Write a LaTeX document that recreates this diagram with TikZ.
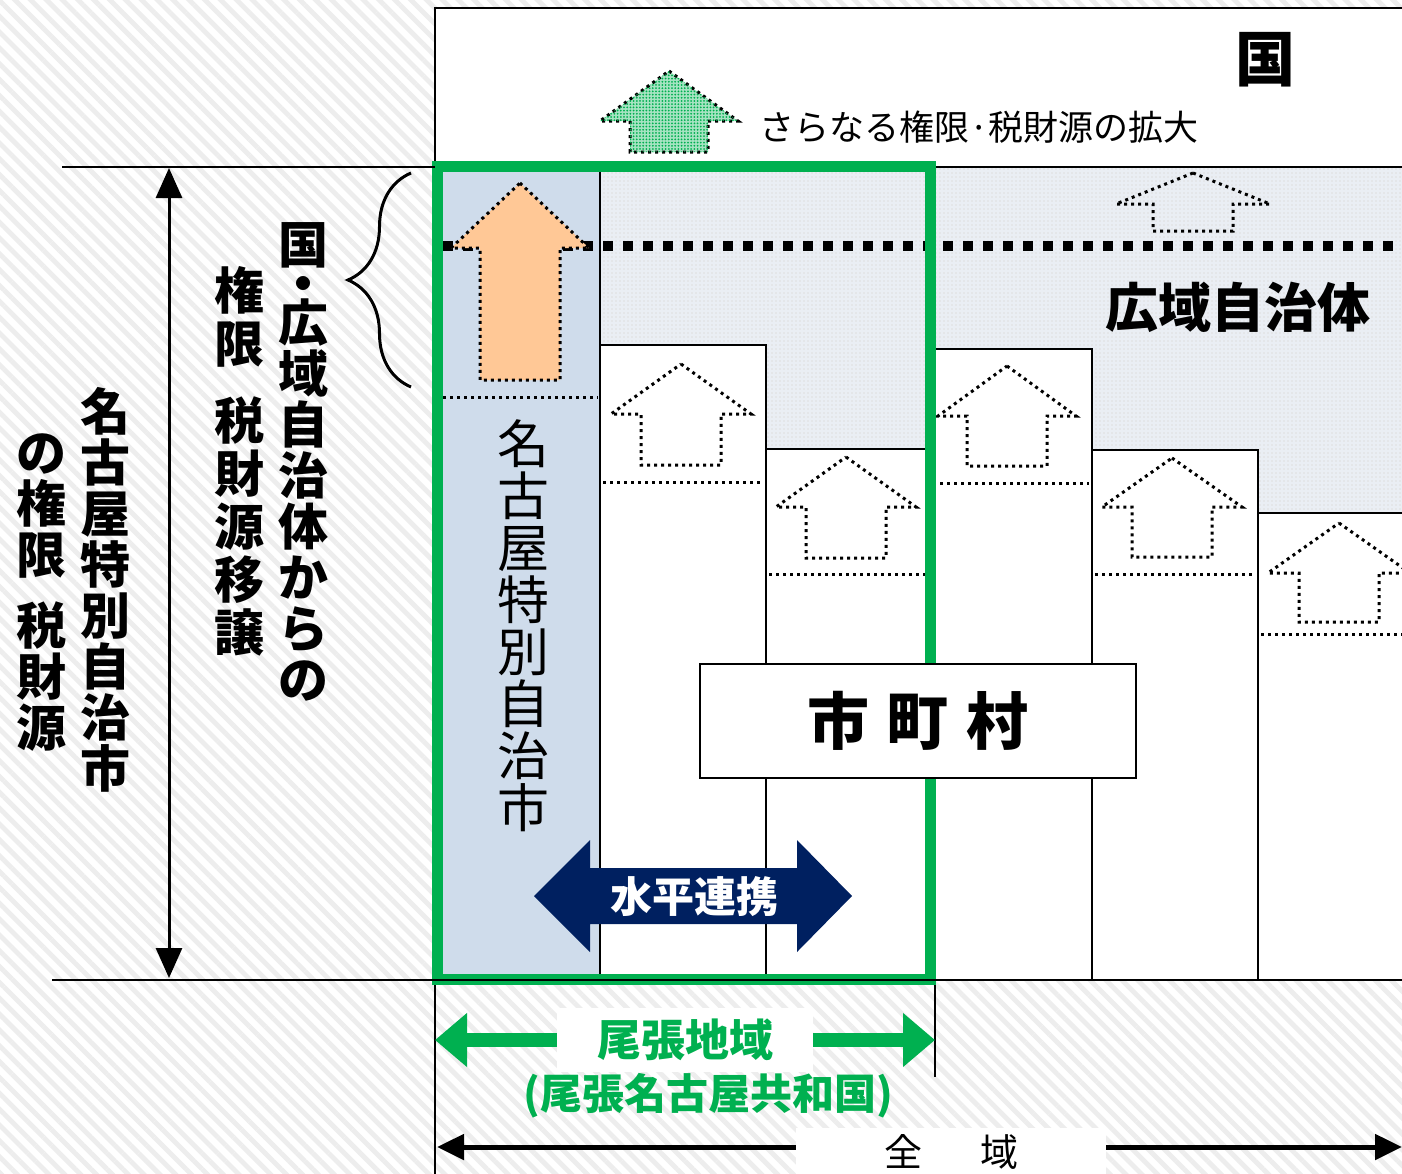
\documentclass[tikz,border=0pt]{standalone}
\usepackage{fontspec}
\newfontfamily\jp{Noto Sans CJK JP}
\usetikzlibrary{arrows.meta,patterns.meta,decorations.pathreplacing,positioning}

\definecolor{nagoyablue}{RGB}{207,220,235}
\definecolor{kouiki}{RGB}{234,238,244}
\definecolor{ojgreen}{RGB}{0,176,80}
\definecolor{peach}{RGB}{255,200,150}
\definecolor{navy}{RGB}{0,32,96}

\begin{document}
\begin{tikzpicture}[x=0.5pt,y=-0.5pt,font=\jp,
  col/.style={fill=white,draw=black,line width=0.8pt},
  dotline/.style={line width=1.5pt,dash pattern=on 1.5pt off 2pt},
  vlabel/.style={align=center,inner sep=0pt,font=\jp\bfseries\fontsize{25}{25.5}\selectfont},
  greenarr/.style={draw=ojgreen,line width=7pt,{Triangle[length=16pt,width=26pt]}-{Triangle[length=16pt,width=26pt]}},
  blackarr/.style={draw=black,line width=1.5pt,{Triangle[length=15pt,width=13pt]}-{Triangle[length=15pt,width=13pt]}}]
  \clip (0,0) rectangle (1402,1173);
  % background
  \fill[white] (0,0) rectangle (1402,1173);
  \fill[pattern={Lines[angle=-45,distance=5.6pt,line width=2.4pt]},pattern color=black!7] (0,0) rectangle (1402,1173);

  % kuni box and kouiki area
  \draw[fill=white,line width=0.8pt] (435,8) rectangle (1420,167);
  \node[font=\jp\bfseries\fontsize{30}{30}\selectfont] (kuni) at (1265,60) {国};
  \fill[kouiki,postaction={pattern={Dots[distance=2pt,radius=0.45pt]},pattern color=black!13}] (435,167) rectangle (1420,980);
  \draw[line width=0.8pt] (435,167) -- (1420,167);
  \node[font=\jp\bfseries\fontsize{26.5}{26.5}\selectfont] (kouikilbl) at (1238,307) {広域自治体};

  % nagoya column
  \draw[fill=nagoyablue,line width=0.8pt] (435,167) rectangle (600,980);
  \draw[dotline] (443,397) -- (598,397);

  % municipal columns
  \foreach \xa/\xb/\top/\dl in {600/766/345/482, 766/930/449/574, 930/1092/349/483, 1092/1258/450/574, 1258/1420/513/634}{
    \draw[col] (\xa,980) rectangle (\xb,\top);
    \draw[dotline] (\xa+3,\dl) -- (\xb-3,\dl);
  }

  % thick dotted line
  \draw[line width=5pt,dash pattern=on 5pt off 5pt] (443,246) -- (1420,246);

  % up arrows
  \foreach \cx/\tip/\base/\bot/\hw in {681/364/414/465/70, 846/457/507/558/70, 1007/366/416/466/69, 1172/458/507/557/70, 1339/523/573/622/71, 1193/173/204/231/77}
    \draw[dotline] (\cx,\tip) -- (\cx+\hw,\base) -- (\cx+40,\base) -- (\cx+40,\bot) -- (\cx-40,\bot) -- (\cx-40,\base) -- (\cx-\hw,\base) -- cycle;
  \draw[dotline,fill=peach] (520,183) -- (589,248) -- (560,248) -- (560,380) -- (480,380) -- (480,248) -- (451,248) -- cycle;
  \draw[dotline,fill=ojgreen!35!white,postaction={pattern={Dots[distance=1.6pt,radius=0.5pt]},pattern color=ojgreen}] (669,71) -- (738,121) -- (708,121) -- (708,152) -- (630,152) -- (630,121) -- (600,121) -- cycle;
  \node[anchor=west,font=\jp\fontsize{17.5}{17.5}\selectfont] (kakudai) at (752,127) {さらなる権限·税財源の拡大};

  % owari frame
  \draw[ojgreen,line width=5.5pt] (437,166) rectangle (930,979);

  % labels inside
  \node[align=center,inner sep=0pt,font=\jp\fontsize{26}{26}\selectfont] (nagoya) at (523,626) {名\\古\\屋\\特\\別\\自\\治\\市};
  \node[draw=black,fill=white,line width=0.8pt,minimum width=218pt,minimum height=57pt,font=\jp\bfseries\fontsize{31}{31}\selectfont] (shichoson) at (918,721) {市\hspace{9pt}町\hspace{9pt}村};
  \fill[navy] (534,896) -- (590,840) -- (590,868) -- (797,868) -- (797,840) -- (852,896) -- (797,952) -- (797,924) -- (590,924) -- (590,952) -- cycle;
  \node[text=white,font=\jp\bfseries\fontsize{21}{21}\selectfont] (renkei) at (694,897) {水平連携};

  % left side
  \draw[line width=0.8pt] (62,167) -- (435,167);
  \draw[line width=0.8pt] (52,980) -- (1420,980);
  \coordinate (ltop) at (169,168);
  \coordinate (lbot) at (169,978);
  \draw[blackarr] (ltop) -- (lbot);
  \draw[line width=1.5pt,decorate,decoration={brace,amplitude=31.5pt}] (411,387) -- (411,173);
  \node[vlabel] (lbl1) at (105,590) {名\\古\\屋\\特\\別\\自\\治\\市};
  \node[vlabel] (lbl2) at (42,593) {の\\権\\限\\[10pt]税\\財\\源};
  \node[vlabel] (lbl3) at (303,462) {国\\[-6pt]・\\[-6pt]広\\域\\自\\治\\体\\か\\ら\\の};
  \node[vlabel,font=\jp\bfseries\fontsize{25}{26.5}\selectfont] (lbl4) at (239,461) {権\\限\\[12pt]税\\財\\源\\移\\譲};

  % bottom
  \draw[line width=0.8pt] (435,985) -- (435,1180);
  \draw[line width=0.8pt] (935,985) -- (935,1077);
  \coordinate (gl) at (435,1040);
  \coordinate (gr) at (935,1040);
  \draw[greenarr] (gl) -- (gr);
  \node[fill=white,minimum width=128pt,minimum height=32pt,text=ojgreen,font=\jp\bfseries\fontsize{22}{22}\selectfont] (owari) at (685,1040) {尾張地域};
  \node[text=ojgreen,font=\jp\bfseries\fontsize{21}{21}\selectfont] (kyowakoku) at (708,1096) {(尾張名古屋共和国)};
  \coordinate (al) at (437,1147);
  \coordinate (ar) at (1402,1147);
  \draw[draw=black,line width=2.5pt,{Triangle[length=13.5pt,width=12.5pt]}-{Triangle[length=13.5pt,width=12.5pt]}] (al) -- (ar);
  \node[fill=white,minimum width=155pt,minimum height=24pt,font=\jp\fontsize{19}{19}\selectfont] (zeniki) at (951,1152) {全\hspace{29pt}域};
\end{tikzpicture}
\end{document}
